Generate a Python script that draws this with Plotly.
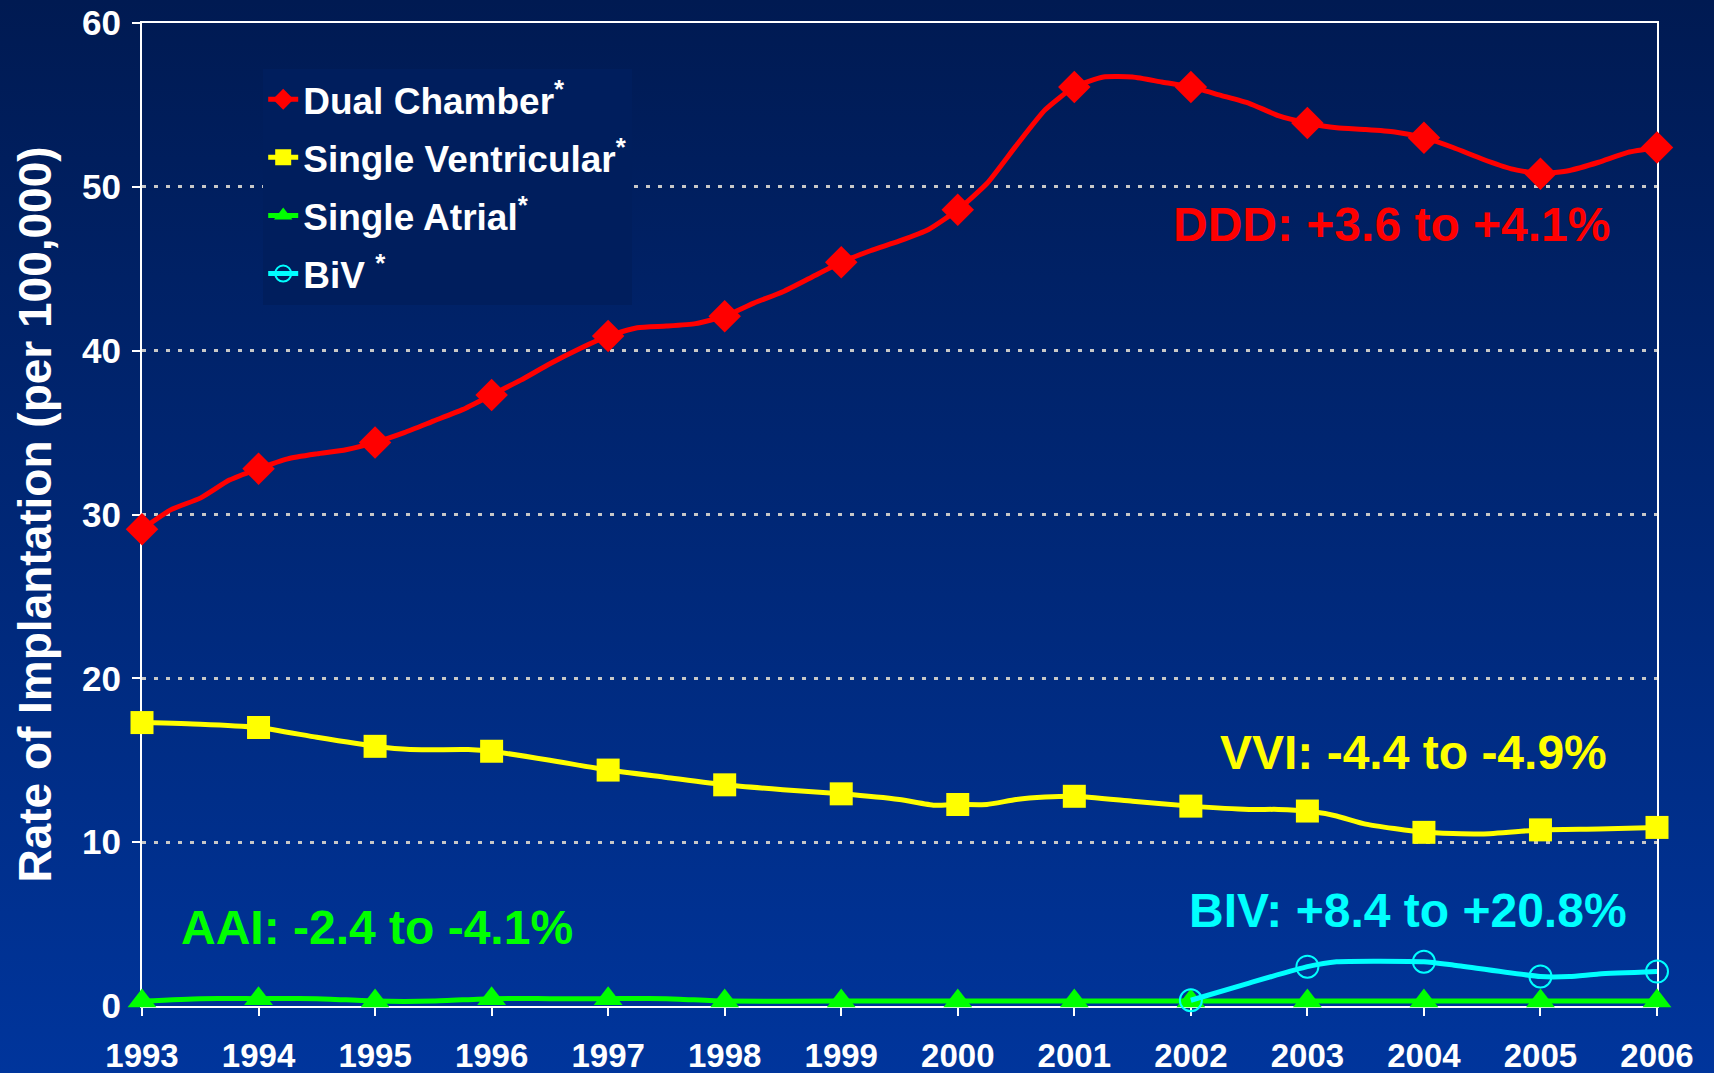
import base64
import plotly.graph_objects as go

years = list(range(1993, 2007))
year_labels = [str(y) for y in years]

dual_x = [1993, 1993.25, 1993.5, 1993.75, 1994, 1994.25, 1994.5, 1994.75,
          1995, 1995.25, 1995.5, 1995.75, 1996, 1996.25, 1996.5, 1996.75,
          1997, 1997.25, 1997.5, 1997.75, 1998, 1998.25, 1998.5, 1998.75,
          1999, 1999.25, 1999.5, 1999.75, 2000, 2000.25, 2000.5, 2000.75,
          2001, 2001.25, 2001.5, 2001.75, 2002, 2002.25, 2002.5, 2002.75,
          2003, 2003.25, 2003.5, 2003.75, 2004, 2004.25, 2004.5, 2004.75,
          2005, 2005.25, 2005.5, 2005.75, 2006]
dual_y = [29.1, 30.3, 31.0, 32.1, 32.8, 33.4, 33.7, 33.95,
          34.4, 35.0, 35.7, 36.4, 37.3, 38.2, 39.2, 40.1,
          40.9, 41.4, 41.5, 41.65, 42.1, 42.9, 43.6, 44.5,
          45.4, 46.1, 46.7, 47.4, 48.6, 50.2, 52.5, 54.7,
          56.1, 56.7, 56.7, 56.4, 56.1, 55.6, 55.1, 54.35,
          53.9, 53.6, 53.5, 53.35, 53.0, 52.4, 51.7, 51.1,
          50.8, 51.0, 51.5, 52.1, 52.4]

vent_x = [1993, 1993.5, 1994, 1994.5, 1995, 1995.3, 1995.8, 1996, 1996.5,
          1997, 1997.5, 1998, 1998.5, 1999, 1999.5, 1999.8, 2000, 2000.25,
          2000.5, 2000.75, 2001, 2001.5, 2002, 2002.5, 2002.75, 2003,
          2003.25, 2003.5, 2004, 2004.5, 2005, 2005.5, 2006]
vent_y = [17.3, 17.2, 17.0, 16.4, 15.85, 15.65, 15.65, 15.55, 15.0,
          14.4, 13.95, 13.5, 13.2, 12.95, 12.6, 12.25, 12.3, 12.3,
          12.6, 12.75, 12.8, 12.5, 12.2, 12.0, 12.0, 11.9,
          11.6, 11.1, 10.6, 10.5, 10.75, 10.8, 10.9]

atrial_x = [1993, 1993.5, 1994, 1994.5, 1995, 1995.5, 1996, 1996.5, 1997,
            1997.5, 1998, 1999, 2000, 2001, 2002, 2003, 2004, 2005, 2006]
atrial_y = [0.3, 0.45, 0.45, 0.45, 0.3, 0.3, 0.45, 0.45, 0.45,
            0.45, 0.3, 0.3, 0.3, 0.3, 0.3, 0.3, 0.3, 0.3, 0.3]

biv_x = [2002, 2002.5, 2003, 2003.25, 2004, 2004.25, 2005, 2005.25, 2005.5, 2006]
biv_y = [0.35, 1.4, 2.4, 2.7, 2.7, 2.5, 1.8, 1.8, 1.95, 2.1]

series = [
    ("Dual Chamber<sup>*</sup>", dual_x, dual_y, "#FF0000", "diamond", 25),
    ("Single Ventricular<sup>*</sup>", vent_x, vent_y, "#FFFF00", "square", 23),
    ("Single Atrial<sup>*</sup>", atrial_x, atrial_y, "#00FF00", "triangle-up", 25),
    ("BiV <sup>*</sup>", biv_x, biv_y, "#00FFFF", "circle-open", 22),
]

notes = [
    ("DDD: +3.6 to +4.1%", 2003.72, 47.7, "#FF0000"),
    ("VVI: -4.4 to -4.9%", 2003.91, 15.5, "#FFFF00"),
    ("BIV: +8.4 to +20.8%", 2003.86, 5.8, "#00FFFF"),
    ("AAI: -2.4 to -4.1%", 1995.02, 4.8, "#00FF00"),
]

FONT = "Liberation Sans, Arial, sans-serif"
W, H = 1714, 1073
L, R, T, B = 142, 57, 23, 67

fig = go.Figure()

for name, xs, ys, color, symbol, size in series:
    sizes = [size if float(x).is_integer() else 0 for x in xs]
    open_sym = symbol.endswith("open")
    fig.add_trace(go.Scatter(
        x=xs, y=ys, mode="lines+markers", showlegend=False, cliponaxis=False,
        legendgroup=name,
        line=dict(color=color, width=5, shape="spline", smoothing=0.5),
        marker=dict(symbol=symbol, size=sizes, color=color, opacity=1,
                    line=dict(width=2 if open_sym else 0, color=color)),
        hoverinfo="x+y",
    ))
    # legend entry only
    fig.add_trace(go.Scatter(
        x=[None], y=[None], mode="lines+markers", name=name, legendgroup=name,
        line=dict(color=color, width=5),
        marker=dict(symbol=symbol, size=16, color=color,
                    line=dict(width=2 if open_sym else 0, color=color)),
    ))

for text, x, y, color in notes:
    fig.add_annotation(x=x, y=y, text=text, showarrow=False,
                       font=dict(family=FONT, size=48, color=color, weight="bold"))

# background gradient
svg = ('<svg xmlns="http://www.w3.org/2000/svg" width="100" height="100" preserveAspectRatio="none">'
       '<defs><linearGradient id="g" x1="0" y1="0" x2="0" y2="1">'
       '<stop offset="0" stop-color="#001a52"/><stop offset="1" stop-color="#00359c"/>'
       '</linearGradient></defs><rect width="100" height="100" fill="url(#g)"/></svg>')
src = "data:image/svg+xml;base64," + base64.b64encode(svg.encode()).decode()
pw, ph = W - L - R, H - T - B
fig.add_layout_image(source=src, xref="paper", yref="paper", x=-L / pw, y=1 + T / ph,
                     sizex=W / pw, sizey=H / ph, xanchor="left", yanchor="top",
                     sizing="stretch", layer="below")

axis_common = dict(
    showline=True, linecolor="white", linewidth=2, mirror=True,
    ticks="outside", tickcolor="white", tickwidth=2, ticklen=8,
    zeroline=False, layer="below traces",
)

fig.update_xaxes(
    range=[1993, 2006], tickvals=years, ticktext=year_labels, showgrid=False,
    ticklabelstandoff=11,
    tickfont=dict(family=FONT, size=33, color="white", weight="bold"),
    **axis_common,
)
fig.update_yaxes(
    range=[0, 60], dtick=10, showgrid=True, gridcolor="#c8c8c8", gridwidth=3,
    griddash="4px,8px", ticklabelstandoff=4,
    tickfont=dict(family=FONT, size=35, color="white", weight="bold"),
    title=dict(text="Rate of Implantation (per 100,000)", standoff=16,
               font=dict(family=FONT, size=46, color="white", weight="bold")),
    **axis_common,
)

fig.update_layout(
    width=W, height=H,
    margin=dict(l=L, r=R, t=T, b=B, autoexpand=False),
    paper_bgcolor="#001a52", plot_bgcolor="rgba(0,0,0,0)",
    showlegend=True,
    legend=dict(x=0.08, y=0.9535, xanchor="left", yanchor="top",
                bgcolor="#001e5d", borderwidth=0, tracegroupgap=7,
                font=dict(family=FONT, size=37, color="white", weight="bold")),
)

fig.write_html("out.html", config={"displayModeBar": False},
               post_script="document.body.style.margin='0';")
